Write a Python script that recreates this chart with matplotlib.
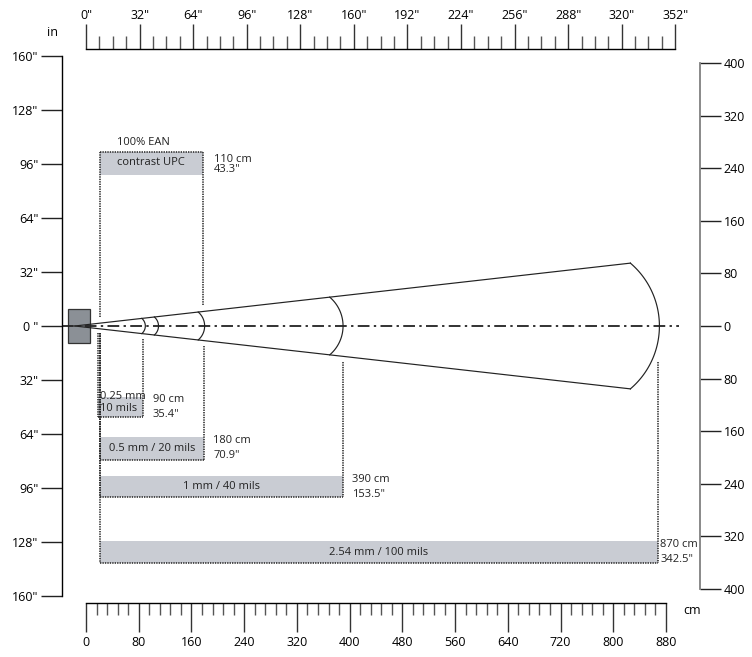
import numpy as np
import matplotlib
matplotlib.use('Agg')
import matplotlib.pyplot as plt
from matplotlib.patches import Rectangle

plt.rcParams['font.family'] = ['Open Sans', 'DejaVu Sans']

# ruler / axis ticks
top_ticks_in = np.arange(0, 353, 32)
top_minor_in = np.arange(0, 353, 8)
bottom_ticks_cm = np.arange(0, 881, 80)
bottom_minor_cm = np.arange(0, 881, 16)
left_ticks_in = np.arange(-160, 161, 32)
right_ticks_cm = np.arange(-400, 401, 80)

# beam: end of each reading zone (cm)
arc_ranges = [90, 110, 180, 390, 870]
beam_slope = 0.113
apex_x = -17

# reading range bars below the beam (cm)
bar_labels = ['0.25 mm\n10 mils', '0.5 mm / 20 mils', '1 mm / 40 mils', '2.54 mm / 100 mils']
bar_near = [18, 21, 21, 21]
bar_far = [87, 179, 390, 868]
bar_top = [-107, -168, -228, -326]
bar_bottom = [-138, -203, -260, -360]
bar_cm = ['90 cm', '180 cm', '390 cm', '870 cm']
bar_in = ['35.4"', '70.9"', '153.5"', '342.5"']

# UPC bar above the beam
upc_near, upc_far = 21, 178
upc_top, upc_bottom = 264, 229
upc_cm, upc_in = '110 cm', '43.3"'

W, H = 752, 657
S = 580 / 880          # px per cm
GREY = '#c9ccd3'
INK = '#222222'
DOT = (0, (0.9, 0.7))
FS = 8

fig = plt.figure(figsize=(W / 100, H / 100), dpi=100)


def rect(x0, y0, x1, y1):
    # pixel box (top-left origin) -> figure fraction
    return [x0 / W, 1 - y1 / H, (x1 - x0) / W, (y1 - y0) / H]


def bare(a, keep):
    for k, s in a.spines.items():
        s.set_visible(k == keep)
    a.patch.set_visible(False)


# main drawing area in cm
ax = fig.add_axes([0, 0, 1, 1])
ax.set_xlim(-86 / S, (W - 86) / S)
ax.set_ylim(-(H - 326) / S, 326 / S)
ax.axis('off')

# top ruler (inches)
top = fig.add_axes(rect(86, 24, 86 + 352 * 2.54 * S, 49))
bare(top, 'bottom')
top.set_xlim(0, 352)
top.set_yticks([])
top.set_xticks(top_ticks_in)
top.set_xticklabels([f'{v}"' for v in top_ticks_in])
top.set_xticks(top_minor_in, minor=True)
top.tick_params(axis='x', which='major', direction='in', length=18, width=1.0,
                color='#333', labelbottom=False, labeltop=True, pad=1.5, labelsize=9)
top.tick_params(axis='x', which='minor', direction='in', length=9.4, width=1.0, color='#555')
top.spines['bottom'].set_linewidth(1.0)
fig.text(53 / W, 1 - 33 / H, 'in', fontsize=9, ha='center', va='center')

# bottom ruler (cm)
bot = fig.add_axes(rect(86, 603, 86 + 880 * S, 632))
bare(bot, 'top')
bot.set_xlim(0, 880)
bot.set_yticks([])
bot.xaxis.set_ticks_position('top')
bot.set_xticks(bottom_ticks_cm)
bot.set_xticks(bottom_minor_cm, minor=True)
bot.tick_params(axis='x', which='major', direction='in', length=20.9, width=1.0,
                color='#333', labeltop=False, labelbottom=True, pad=3, labelsize=9)
bot.tick_params(axis='x', which='minor', direction='in', length=8.6, width=1.0, color='#555')
bot.spines['top'].set_linewidth(1.0)
fig.text(692 / W, 1 - 610 / H, 'cm', fontsize=9, ha='center', va='center')

# left axis (inches)
la = fig.add_axes(rect(62, 56, 62.5, 596))
bare(la, 'left')
la.set_ylim(-160, 160)
la.set_xticks([])
la.set_yticks(left_ticks_in)
la.set_yticklabels([f'{abs(v)}"' if v else '0 "' for v in left_ticks_in])
la.tick_params(axis='y', direction='out', length=15, width=1.0, color=INK, pad=2, labelsize=9)
la.spines['left'].set_linewidth(1.0)

# right axis (cm)
ra = fig.add_axes(rect(699.5, 63, 700, 589))
bare(ra, 'right')
ra.set_ylim(-400, 400)
ra.set_xticks([])
ra.yaxis.set_ticks_position('right')
ra.set_yticks(right_ticks_cm)
ra.set_yticklabels([str(abs(v)) for v in right_ticks_cm])
ra.tick_params(axis='y', direction='out', length=15, width=1.0, color=INK, pad=2, labelsize=9)
ra.spines['right'].set_color('#808080')
ra.spines['right'].set_linewidth(1.3)


def arc_points(R):
    w = beam_slope * (R - apex_x)
    r = 1.25 * w
    c = R - r
    t = np.linspace(0, np.pi / 2, 600)
    f = r * np.sin(t) - beam_slope * (c + r * np.cos(t) - apex_x)
    tmax = t[np.argmax(f >= 0)]
    tt = np.linspace(-tmax, tmax, 120)
    return c + r * np.cos(tt), r * np.sin(tt)


# scanner
ax.add_patch(Rectangle((-27, -26), 33, 52, fc='#8b9096', ec='#333', lw=0.9, zorder=3))

# beam arcs and cone
for R in arc_ranges:
    xs, ys = arc_points(R)
    ax.plot(xs, ys, color=INK, lw=0.85, zorder=4)
xe, ye = arc_points(arc_ranges[-1])
ax.plot([apex_x, xe[-1]], [0, ye[-1]], color=INK, lw=0.85, zorder=4)
ax.plot([apex_x, xe[0]], [0, ye[0]], color=INK, lw=0.85, zorder=4)

# centre line
ax.plot([-36, 900], [0, 0], color=INK, lw=1.3, dashes=(6.5, 2.4, 1.3, 2.4), zorder=5)

# bars under the beam
for i, lab in enumerate(bar_labels):
    near, far, t, b = bar_near[i], bar_far[i], bar_top[i], bar_bottom[i]
    ax.add_patch(Rectangle((near, b), far - near, t - b, fc=GREY, ec='none', zorder=1))
    start = -(min(beam_slope * (far - apex_x), 46) + 8)
    ax.plot([near, near], [-10, b], color=INK, lw=1.1, ls=DOT, zorder=2)
    ax.plot([far, far], [start, b], color=INK, lw=1.1, ls=DOT, zorder=2)
    ax.plot([near, far], [b, b], color=INK, lw=1.1, ls=DOT, zorder=2)
    if i == 0:
        ax.text(near + 4, b + 4, lab, fontsize=FS, color=INK, ha='left', va='bottom',
                linespacing=1.2, zorder=6)
    else:
        ax.text((near + far) / 2, (t + b) / 2, lab, fontsize=FS, color=INK,
                ha='center', va='center', zorder=6)
    mid = (t + b) / 2
    lx = far + (3 if far > 800 else 14)
    ax.text(lx, mid + 11.5, bar_cm[i], fontsize=FS, color=INK, ha='left', va='center')
    ax.text(lx, mid - 11.5, bar_in[i], fontsize=FS, color=INK, ha='left', va='center')

# UPC bar above the beam
ax.add_patch(Rectangle((upc_near, upc_bottom), upc_far - upc_near, upc_top - upc_bottom,
                       fc=GREY, ec='none', zorder=1))
ax.plot([upc_near, upc_far], [upc_top, upc_top], color=INK, lw=1.1, ls=DOT, zorder=2)
ax.plot([upc_near, upc_near], [14, upc_top], color=INK, lw=1.1, ls=DOT, zorder=2)
ax.plot([upc_far, upc_far], [32, upc_top], color=INK, lw=1.1, ls=DOT, zorder=2)
ax.text(47, 277.7, '100% EAN', fontsize=FS, color=INK, ha='left', va='center')
ax.text(47, 248.8, 'contrast UPC', fontsize=FS, color=INK, ha='left', va='center')
ax.text(194, 253, upc_cm, fontsize=FS, color=INK, ha='left', va='center')
ax.text(194, 236.7, upc_in, fontsize=FS, color=INK, ha='left', va='center')

fig.savefig('out.png', dpi=100)
